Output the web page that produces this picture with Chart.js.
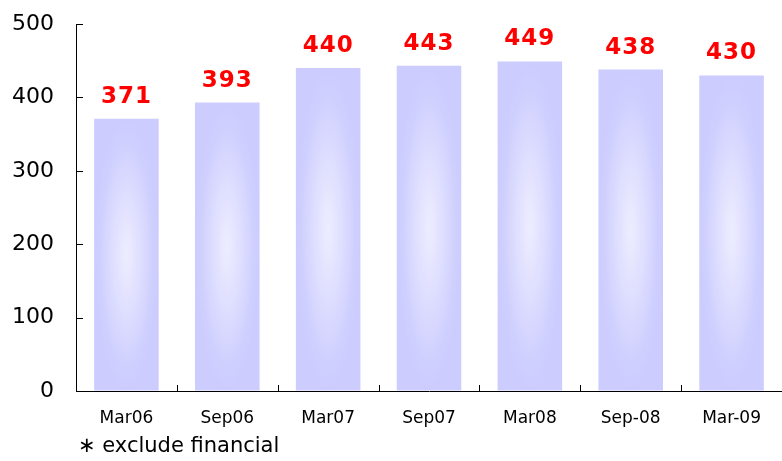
<!DOCTYPE html>
<html lang="en">
<head>
  <meta charset="UTF-8" />
  <title>Bar chart</title>
  <script src="https://cdn.jsdelivr.net/npm/chart.js"></script>
  <style>
    * { margin: 0; padding: 0; box-sizing: border-box; }
    body { background: #fff; width: 782px; height: 461px; overflow: hidden; font-family: 'DejaVu Sans', sans-serif; }
    .wrap { position: relative; width: 782px; height: 461px; }
    .note { position: absolute; left: 78px; top: 433px; font-size: 21px; color: #000; line-height: 24px; }
  </style>
</head>
<body>
  <div class="wrap">
    <canvas id="chart" width="782" height="461"></canvas>
    <div class="note">∗ exclude financial</div>
  </div>

  <script>
    const categories = ['Mar06', 'Sep06', 'Mar07', 'Sep07', 'Mar08', 'Sep-08', 'Mar-09'];
    const values = [371, 393, 440, 443, 449, 438, 430];
    const yTicks = [0, 100, 200, 300, 400, 500];

    // soft light centre on each bar
    const barShine = {
      id: 'barShine',
      afterDatasetDraw(chart, args) {
        const ctx = chart.ctx;
        args.meta.data.forEach(bar => {
          const p = bar.getProps(['x', 'y', 'base', 'width'], true);
          const left = p.x - p.width / 2;
          const h = p.base - p.y;
          const cy = p.y + h * 0.5;
          const rx = p.width / 2;
          const ry = h / 2;
          ctx.save();
          ctx.beginPath();
          ctx.rect(left, p.y, p.width, h);
          ctx.clip();
          ctx.translate(p.x, cy);
          ctx.scale(1, ry / rx);
          const g = ctx.createRadialGradient(0, 0, 0, 0, 0, rx);
          g.addColorStop(0, 'rgba(255,255,255,0.65)');
          g.addColorStop(0.45, 'rgba(255,255,255,0.35)');
          g.addColorStop(0.85, 'rgba(255,255,255,0.05)');
          g.addColorStop(1, 'rgba(255,255,255,0)');
          ctx.fillStyle = g;
          ctx.fillRect(-rx, -rx, rx * 2, rx * 2);
          ctx.restore();
        });
      }
    };

    // axis tick marks pointing into the plot, and value labels
    const decor = {
      id: 'decor',
      afterDraw(chart) {
        const ctx = chart.ctx;
        const x = chart.scales.x, y = chart.scales.y;
        const area = chart.chartArea;
        ctx.save();
        ctx.strokeStyle = '#000';
        ctx.lineWidth = 1;
        ctx.beginPath();
        yTicks.forEach(v => {
          const py = Math.round(y.getPixelForValue(v)) + 0.5;
          ctx.moveTo(area.left, py);
          ctx.lineTo(area.left + 7, py);
        });
        for (let i = 1; i < categories.length; i++) {
          const px = Math.round((x.getPixelForValue(i - 1) + x.getPixelForValue(i)) / 2) + 0.5;
          ctx.moveTo(px, area.bottom);
          ctx.lineTo(px, area.bottom - 6);
        }
        ctx.stroke();

        ctx.fillStyle = '#ff0000';
        ctx.font = 'bold 23px "DejaVu Sans"';
        ctx.letterSpacing = '1px';
        ctx.textAlign = 'center';
        ctx.textBaseline = 'alphabetic';
        chart.getDatasetMeta(0).data.forEach((bar, i) => {
          ctx.fillText(String(values[i]), bar.x, bar.y - 16);
        });
        ctx.restore();
      }
    };

    new Chart(document.getElementById('chart'), {
      type: 'bar',
      data: {
        labels: categories,
        datasets: [{
          data: values,
          backgroundColor: '#ccccff',
          borderWidth: 0,
          categoryPercentage: 1,
          barPercentage: 0.64
        }]
      },
      options: {
        responsive: false,
        animation: false,
        layout: { padding: { top: 24, right: 0, left: 0, bottom: 0 } },
        plugins: { legend: { display: false }, tooltip: { enabled: false } },
        scales: {
          y: {
            min: 0,
            max: 500,
            afterFit(scale) {
              scale.width = 76;
              scale.paddingTop = 0;
              scale.paddingBottom = 0;
            },
            afterBuildTicks(scale) { scale.ticks = yTicks.map(v => ({ value: v })); },
            grid: { display: true, drawOnChartArea: false, drawTicks: false },
            border: { display: true, color: '#000', width: 1 },
            ticks: { color: '#000', font: { family: 'DejaVu Sans', size: 22 }, padding: 22 }
          },
          x: {
            afterFit(scale) {
              scale.height = 70;
              scale.paddingLeft = 0;
              scale.paddingRight = 0;
            },
            grid: { display: true, drawOnChartArea: false, drawTicks: false },
            border: { display: true, color: '#000', width: 1 },
            ticks: { color: '#000', font: { family: 'DejaVu Sans', size: 17 }, padding: 17 }
          }
        }
      },
      plugins: [barShine, decor]
    });
  </script>
</body>
</html>
